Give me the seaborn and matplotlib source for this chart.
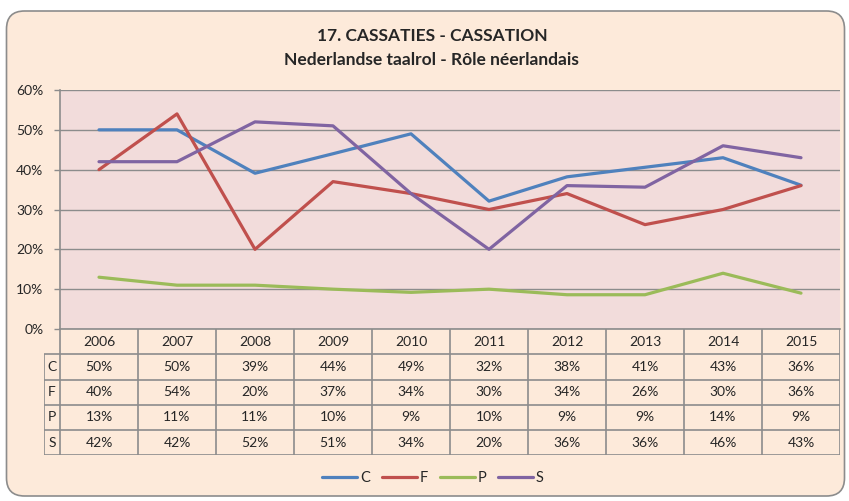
import matplotlib
matplotlib.use('Agg')

import numpy as np
import pandas as pd
import seaborn as sns
import matplotlib.pyplot as plt
from matplotlib.patches import FancyBboxPatch
from matplotlib.transforms import IdentityTransform

years = ['2006', '2007', '2008', '2009', '2010', '2011', '2012', '2013', '2014', '2015']
series_names = ['C', 'F', 'P', 'S']
c_vals = [50, 50, 39.1, 44, 49, 32.1, 38.2, 40.6, 43, 36.1]
f_vals = [40, 54, 20, 37, 34, 30, 34, 26.2, 30, 36]
p_vals = [13, 11, 11, 10, 9.2, 10, 8.6, 8.6, 14, 9]
s_vals = [42, 42, 52, 51, 34, 20, 36, 35.6, 46, 43]
colors = ['#4F81BD', '#C0504D', '#9BBB59', '#8064A2']

title_1 = '17. CASSATIES - CASSATION'
title_2 = 'Nederlandse taalrol - Rôle néerlandais'

grid_col = '#8C8C8C'
outer_bg = '#FDEADA'
plot_bg = '#F2DCDB'

sns.set_style('white')
plt.rcParams['font.family'] = ['Lato', 'DejaVu Sans']

W, H = 849, 501
fig = plt.figure(figsize=(W / 100, H / 100), dpi=100)
fig.patch.set_facecolor('white')

# rounded outer frame (pixel coords)
frame = FancyBboxPatch((6.5, 5), 838, 485, boxstyle='round,pad=0,rounding_size=18',
                       transform=IdentityTransform(), facecolor=outer_bg,
                       edgecolor=grid_col, linewidth=1.2, zorder=0)
fig.add_artist(frame)

# main plot area
ax = fig.add_axes([60 / W, 1 - 329 / H, 780 / W, 239 / H])
ax.set_facecolor(plot_bg)

all_vals = [c_vals, f_vals, p_vals, s_vals]
df = pd.DataFrame({
    'pos': np.tile(np.arange(len(years)), len(series_names)),
    'value': np.concatenate(all_vals),
    'series': np.repeat(series_names, len(years)),
})
sns.lineplot(data=df, x='pos', y='value', hue='series', palette=colors,
             linewidth=2.3, ax=ax, sort=False)

ax.set_xlim(-0.5, len(years) - 0.5)
ax.set_ylim(0, 60)
ax.set_yticks(range(0, 61, 10))
ax.set_yticklabels([f'{t}%' for t in range(0, 61, 10)], fontsize=10)
ax.set_xticks([])
ax.set_xlabel('')
ax.set_ylabel('')
ax.yaxis.grid(True, color=grid_col, linewidth=1.0)
ax.set_axisbelow(True)
ax.tick_params(axis='y', left=True, length=4, width=1, color=grid_col, pad=8)
for side in ['top', 'right']:
    ax.spines[side].set_visible(False)
for side in ['left', 'bottom']:
    ax.spines[side].set_color(grid_col)
    ax.spines[side].set_linewidth(1.2)

sns.move_legend(ax, 'center', bbox_to_anchor=((433 - 60) / 780, (329 - 478) / 239),
                ncol=4, frameon=False, title=None, fontsize=10.5,
                handlelength=2.4, columnspacing=0.8, handletextpad=0.2)

# data table below
lab_w = 16 / 78
tax = fig.add_axes([44 / W, 1 - 455.3 / H, 796 / W, 126.3 / H])
tax.set_xlim(-0.5 - lab_w, len(years) - 0.5)
tax.set_ylim(5, 0)
tax.axis('off')
n = len(years)
tax.hlines(range(1, 6), -0.5 - lab_w, n - 0.5, color=grid_col, linewidth=1.2)
tax.vlines([-0.5 - lab_w], 1, 5, color=grid_col, linewidth=1.2)
tax.vlines(np.arange(n + 1) - 0.5, 0, 5, color=grid_col, linewidth=1.2)
for i, y in enumerate(years):
    tax.text(i, 0.5, y, ha='center', va='center', fontsize=10)
for r, (name, vals) in enumerate(zip(series_names, all_vals)):
    tax.text(-0.5 - lab_w / 2, r + 1.5, name, ha='center', va='center', fontsize=10)
    for i, v in enumerate(vals):
        tax.text(i, r + 1.5, f'{v:.0f}%', ha='center', va='center', fontsize=10)

fig.text(432 / W, 1 - 36 / H, title_1, ha='center', va='center', fontsize=12.5,
         fontweight='bold')
fig.text(431 / W, 1 - 60 / H, title_2, ha='center', va='center', fontsize=12.5,
         fontweight='bold')

fig.savefig('out.png', dpi=100)
